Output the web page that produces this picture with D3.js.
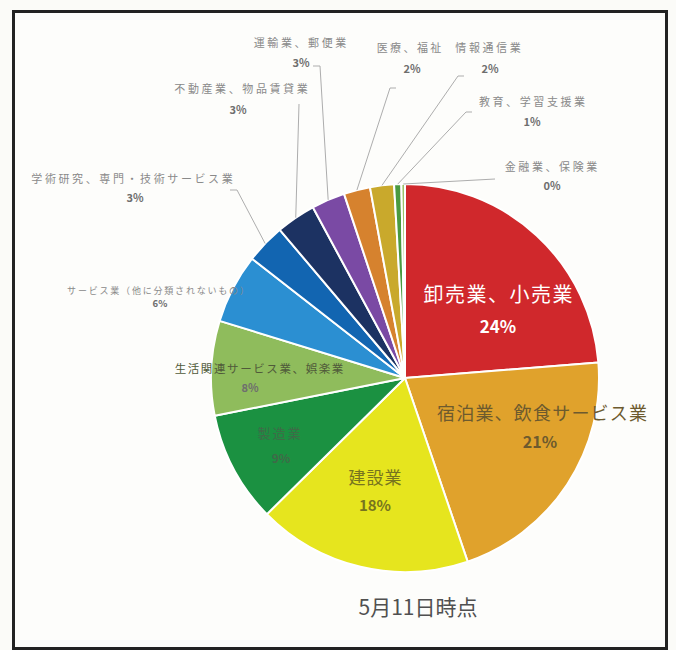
<!DOCTYPE html>
<html>
<head>
<meta charset="utf-8">
<script src="https://cdn.jsdelivr.net/npm/d3@7"></script>
<style>
  body { margin: 0; background: #fbfbf8; }
  text { font-family: "Noto Sans CJK JP", "Noto Sans", sans-serif; }
</style>
</head>
<body>
<div id="chart-area"></div>
<script>
// Industry breakdown as of 5/11
var categories = ["卸売業、小売業", "宿泊業、飲食サービス業", "建設業", "製造業",
    "生活関連サービス業、娯楽業", "サービス業（他に分類されないもの）",
    "学術研究、専門・技術サービス業", "不動産業、物品賃貸業", "運輸業、郵便業",
    "医療、福祉", "情報通信業", "教育、学習支援業", "金融業、保険業"];
var values = [23.8, 21.1, 17.9, 9.3, 7.9, 5.8, 3.3, 3.3, 2.8, 2.2, 2.0, 0.6, 0.3];
var colors = ["#d0282c", "#e0a22c", "#e6e51e", "#1b9141", "#8fbc5c", "#2b8fd2",
    "#1265b1", "#1c3262", "#7a4aa4", "#d6822e", "#c9a92c", "#4a9a40", "#9cc26a"];
var title = "5月11日時点";

var width = 676, height = 650;
var cx = 405, cy = 378, radius = 194;

// label placement: [name x, name y, pct x, pct y, leader start x, leader start y]
var labelAt = [
    [498, 293, 498, 325],
    [542, 412, 540, 441],
    [375, 476, 375, 504],
    [279, 432, 281, 457],
    [259, 368, 250, 387],
    [158, 290, 160, 303],
    [132, 178, 135, 197, 230, 190],
    [241, 88, 238, 109, 299, 104],
    [300, 42, 301, 62, 313, 66],
    [409, 47, 412, 68, 390, 88],
    [488, 47, 490, 68, 458, 76],
    [532, 101, 532, 121, 466, 112],
    [551, 166, 552, 185, 495, 179]
];
// label text styles: [name size, pct size, color, letter spacing]
var labelStyle = [
    [20, 17, "#ffffff", 1.5],
    [18, 16, "#6d5a2e", 1.2],
    [17, 15, "#77741f", 1],
    [13, 12, "#3f6a48", 2],
    [11.5, 11, "#505a3a", 1.6],
    [9, 9.5, "#8a8a8a", 1.8],
    [11, 11, "#8a8a8a", 2.6],
    [11, 11, "#8a8a8a", 2.6],
    [11, 11, "#8a8a8a", 2.6],
    [11, 11, "#8a8a8a", 2.4],
    [11, 11, "#8a8a8a", 2.6],
    [11, 11, "#8a8a8a", 2.6],
    [11, 11, "#8a8a8a", 2.6]
];

var data = categories.map(function(c, i) {
    return {name: c, value: values[i], color: colors[i], idx: i};
});
var total = d3.sum(values);

var svg = d3.select("#chart-area")
    .append("svg")
        .attr("width", width)
        .attr("height", height);

svg.append("rect")
    .attr("width", width)
    .attr("height", height)
    .attr("fill", "#fbfbf8");

// frame
svg.append("rect")
    .attr("x", 13.5)
    .attr("y", 11.5)
    .attr("width", 653)
    .attr("height", 637)
    .attr("fill", "#fdfdfb")
    .attr("stroke", "#222")
    .attr("stroke-width", 3);

var pie = d3.pie()
    .sort(null)
    .value(function(d) { return d.value; });

var arc = d3.arc()
    .innerRadius(0)
    .outerRadius(radius);

var edge = d3.arc()
    .innerRadius(radius)
    .outerRadius(radius);

var g = svg.append("g")
    .attr("transform", "translate(" + cx + ", " + cy + ")");

var arcs = pie(data);

g.selectAll("path.slice")
    .data(arcs)
    .enter()
    .append("path")
        .attr("class", "slice")
        .attr("d", arc)
        .attr("fill", function(d) { return d.data.color; })
        .attr("stroke", "#fff")
        .attr("stroke-width", 2)
        .attr("stroke-linejoin", "round");

// leader lines (short tick near the label, then down to the slice)
arcs.forEach(function(d) {
    var p = labelAt[d.data.idx];
    if (p.length < 6) return;
    var e = edge.centroid(d);
    var sx = p[4] - cx, sy = p[5] - cy;
    var pts = e[0] > sx ? [[sx, sy], [sx + 7, sy], e] : [[sx + 6, sy], [sx, sy], e];
    if (d.data.idx == 7 || d.data.idx == 12) pts = [[sx, sy], e];
    g.append("path")
        .attr("d", d3.line()(pts))
        .attr("fill", "none")
        .attr("stroke", "#adadad")
        .attr("stroke-width", 1);
});

// labels
data.forEach(function(d, i) {
    var p = labelAt[i], s = labelStyle[i];
    svg.append("text")
        .attr("x", p[0] + s[3] / 2)
        .attr("y", p[1])
        .attr("text-anchor", "middle")
        .attr("dominant-baseline", "central")
        .attr("font-size", s[0] + "px")
        .attr("letter-spacing", s[3])
        .attr("fill", s[2])
        .text(d.name);
    svg.append("text")
        .attr("x", p[2])
        .attr("y", p[3])
        .attr("text-anchor", "middle")
        .attr("dominant-baseline", "central")
        .attr("font-size", s[1] + "px")
        .attr("font-weight", "bold")
        .attr("fill", i < 4 ? s[2] : "#6e6e6e")
        .text(Math.round(d.value / total * 100) + "%");
});

svg.append("text")
    .attr("x", 418)
    .attr("y", 606)
    .attr("text-anchor", "middle")
    .attr("dominant-baseline", "central")
    .attr("font-size", "21px")
    .attr("fill", "#505050")
    .text(title);
</script>
</body>
</html>
